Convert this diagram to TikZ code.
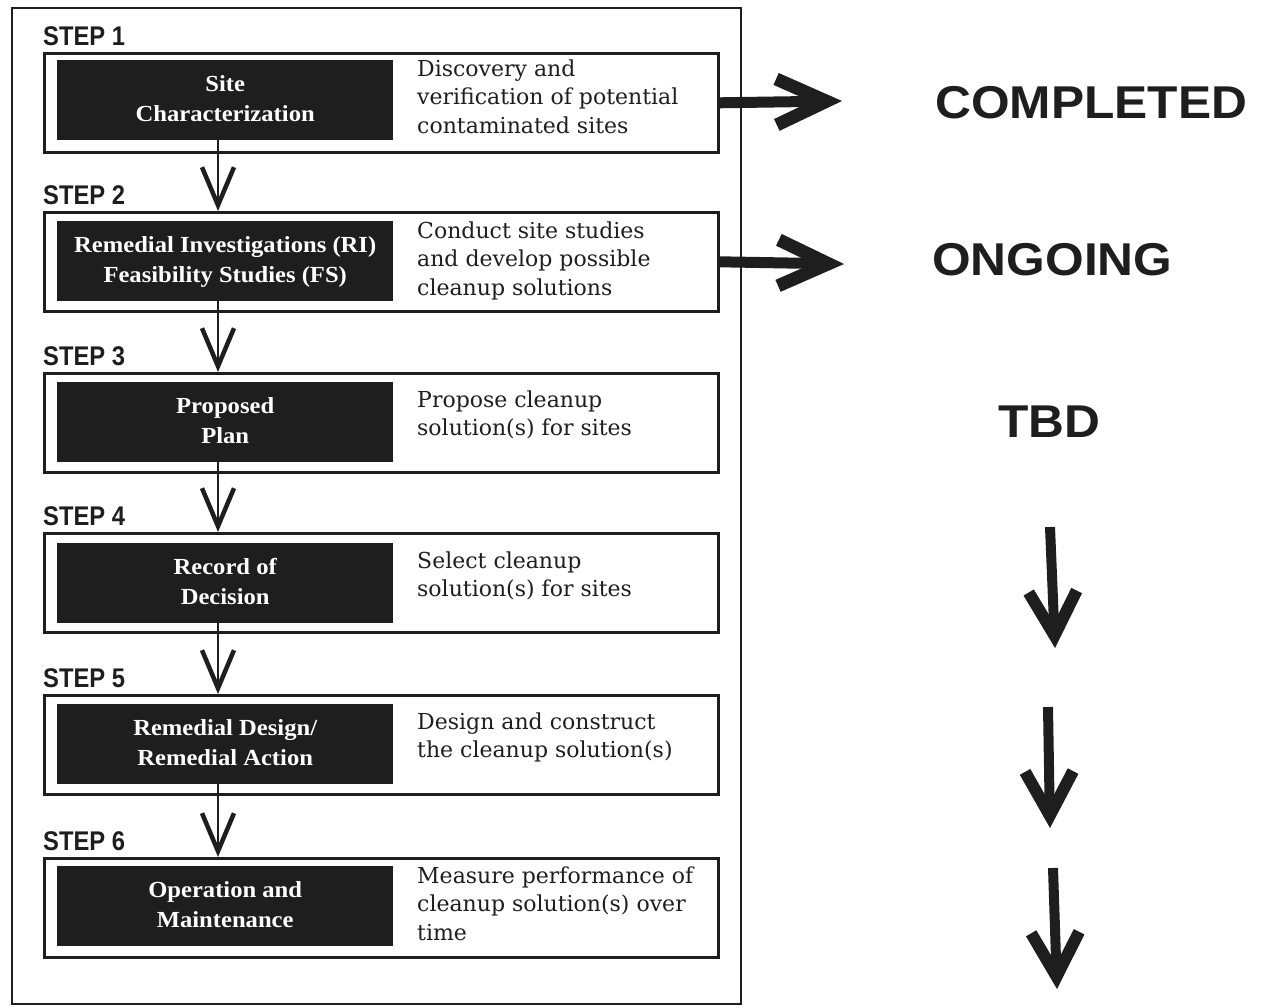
\documentclass[tikz,border=0pt]{standalone}
\usepackage{fontspec}
\setmainfont{DejaVu Serif}
\newfontfamily\blkfamily[FakeStretch=1.07]{Liberation Serif}
\newfontfamily\stepfamily[FakeStretch=0.88]{Liberation Sans}
\newfontfamily\statfamily[FakeStretch=1.08]{Liberation Sans}
\usetikzlibrary{arrows.meta}
\definecolor{ink}{HTML}{1E1E1E}

\tikzset{
  stepbox/.style={draw=ink, line width=2.6pt, minimum width=674pt, minimum height=99pt,
    anchor=north west, inner sep=0pt},
  blackbox/.style={fill=ink, minimum width=336pt, minimum height=80pt, anchor=north west,
    inner sep=0pt, text=white, align=center,
    font=\blkfamily\bfseries\fontsize{23}{30}\selectfont},
  desc/.style={anchor=west, align=left, inner sep=0pt, text=ink,
    font=\fontsize{22}{28.5}\selectfont},
  steplabel/.style={anchor=west, inner sep=0pt, text=ink,
    font=\stepfamily\bfseries\fontsize{27}{30}\selectfont},
  status/.style={anchor=west, inner sep=0pt, text=ink,
    font=\statfamily\bfseries\fontsize{46}{50}\selectfont},
  flow/.style={draw=ink, line width=2.6pt,
    -{Straight Barb[length=38pt, width=32pt, line width=4.5pt]}},
  pointer/.style={draw=ink, line width=11pt,
    -{Straight Barb[length=50pt, width=46pt, line width=13pt]}},
  downpointer/.style={draw=ink, line width=10pt,
    -{Straight Barb[length=44pt, width=48pt, line width=12pt]}},
}

\begin{document}
\begin{tikzpicture}[x=1pt, y=-1pt]
\useasboundingbox (0,0) rectangle (1266,1008);

% outer frame around the six steps
\draw[ink, line width=2.4pt] (12,8) rectangle (741,1004);

% step labels
\node[steplabel] (s1) at (43,36)  {STEP 1};
\node[steplabel] (s2) at (43,195) {STEP 2};
\node[steplabel] (s3) at (43,356) {STEP 3};
\node[steplabel] (s4) at (43,516) {STEP 4};
\node[steplabel] (s5) at (43,678) {STEP 5};
\node[steplabel] (s6) at (43,841) {STEP 6};

% white step boxes
\node[stepbox] (w1) at (43,52)  {};
\node[stepbox] (w2) at (43,211) {};
\node[stepbox] (w3) at (43,372) {};
\node[stepbox] (w4) at (43,532) {};
\node[stepbox] (w5) at (43,694) {};
\node[stepbox] (w6) at (43,857) {};

% black title panels
\node[blackbox] (k1) at (57,60)  {\strut Site\\Characterization\strut};
\node[blackbox] (k2) at (57,221) {\strut Remedial Investigations (RI)\\Feasibility Studies (FS)\strut};
\node[blackbox] (k3) at (57,382) {\strut Proposed\\Plan\strut};
\node[blackbox] (k4) at (57,543) {\strut Record of\\Decision\strut};
\node[blackbox] (k5) at (57,704) {\strut Remedial Design/\\Remedial Action\strut};
\node[blackbox] (k6) at (57,866) {\strut Operation and\\Maintenance\strut};

% descriptions
\node[desc] (d1) at (417,99)  {\strut Discovery and\\verification of potential\\contaminated sites\strut};
\node[desc] (d2) at (417,261) {\strut Conduct site studies\\and develop possible\\cleanup solutions\strut};
\node[desc] (d3) at (417,416) {\strut Propose cleanup\\solution(s) for sites\strut};
\node[desc] (d4) at (417,577) {\strut Select cleanup\\solution(s) for sites\strut};
\node[desc] (d5) at (417,738) {\strut Design and construct\\the cleanup solution(s)\strut};
\node[desc] (d6) at (417,906) {\strut Measure performance of\\cleanup solution(s) over\\time\strut};

% flow between steps
\coordinate (spine) at (218,0);
\foreach \a/\b in {1/2,2/3,3/4,4/5,5/6}
  \draw[flow] (k\a.south -| spine) -- (w\b.north -| spine);

% status labels
\node[status] (st1) at (935,103) {COMPLETED};
\node[status] (st2) at (932,260) {ONGOING};
\node[status] (st3) at (998,422) {TBD};

% pointers from the first two steps
\coordinate (r1) at (842,101);
\coordinate (r2) at (844,264);
\draw[pointer] (w1.east) -- (r1);
\draw[pointer] (w2.east) -- (r2);

% downward arrows below TBD
\coordinate (t1a) at (1050,527); \coordinate (t1b) at (1055,648);
\coordinate (t2a) at (1048,707); \coordinate (t2b) at (1050,828);
\coordinate (t3a) at (1053,868); \coordinate (t3b) at (1057,989);
\draw[downpointer] (t1a) -- (t1b);
\draw[downpointer] (t2a) -- (t2b);
\draw[downpointer] (t3a) -- (t3b);
\end{tikzpicture}
\end{document}
